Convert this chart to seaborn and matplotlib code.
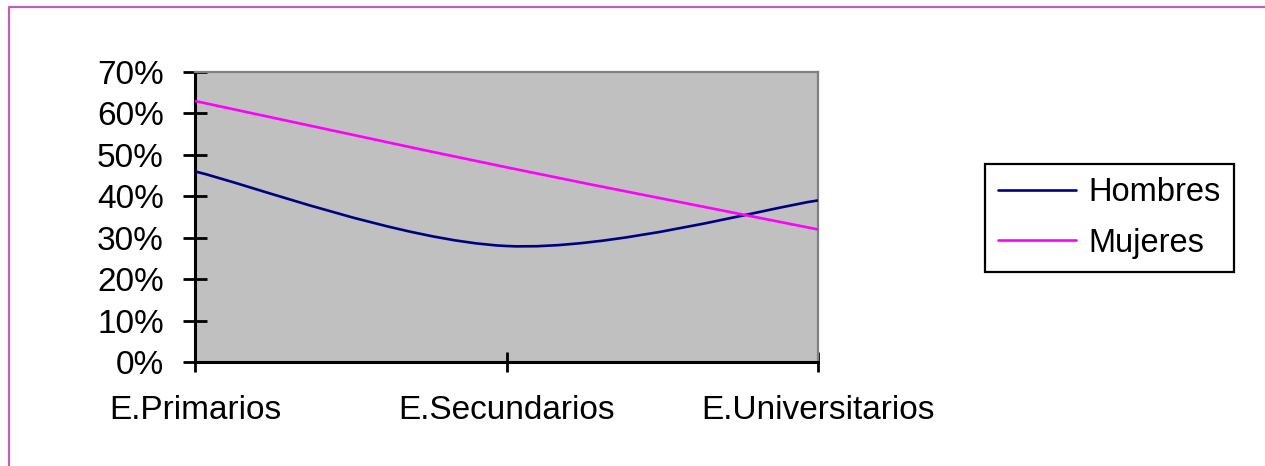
import numpy as np
import pandas as pd
import matplotlib
matplotlib.use("Agg")
import matplotlib.pyplot as plt
import seaborn as sns
from matplotlib.path import Path
from matplotlib.patches import PathPatch
from matplotlib.lines import Line2D
from matplotlib.ticker import PercentFormatter

# datos
niveles = ['E.Primarios', 'E.Secundarios', 'E.Universitarios']
hombres = [0.46, 0.28, 0.39]
mujeres = [0.63, 0.47, 0.32]
series = ['Hombres', 'Mujeres']
colores = {'Hombres': '#000080', 'Mujeres': '#ff00ff'}
ticks_y = [0, 0.1, 0.2, 0.3, 0.4, 0.5, 0.6, 0.7]

df = pd.DataFrame({
    'nivel': niveles * 2,
    'valor': hombres + mujeres,
    'sexo': ['Hombres'] * 3 + ['Mujeres'] * 3,
})

sns.set_style('white')
plt.rcParams['font.family'] = ['Liberation Sans', 'DejaVu Sans']
plt.rcParams['text.color'] = 'black'


def linea_suave(xy):
    # curva bezier tipo "linea suavizada" de Excel a traves de los puntos
    p = np.asarray(xy, dtype=float)
    n = len(p)
    t = np.zeros_like(p)
    for i in range(n):
        a = p[max(i - 1, 0)]
        b = p[min(i + 1, n - 1)]
        t[i] = (b - a) / 6.0
    verts = [p[0]]
    codes = [Path.MOVETO]
    for i in range(n - 1):
        verts += [p[i] + t[i], p[i + 1] - t[i + 1], p[i + 1]]
        codes += [Path.CURVE4] * 3
    return Path(verts, codes)


fig = plt.figure(figsize=(12.65, 4.66), dpi=100)
ax = fig.add_axes([195 / 1265, 1 - 362 / 466, (818 - 195) / 1265, (362 - 72) / 466])

sns.lineplot(data=df, x='nivel', y='valor', hue='sexo', palette=colores,
             sort=False, legend=False, ax=ax)

# reemplazar las lineas rectas por curvas suavizadas
for line, nombre in zip(list(ax.lines), series):
    xy = line.get_xydata()
    ax.add_patch(PathPatch(linea_suave(xy), facecolor='none',
                           edgecolor=colores[nombre], lw=1.9, zorder=3))
    line.set_visible(False)

ax.set_facecolor('#c0c0c0')
ax.set_xlim(0, 2)
ax.set_ylim(0, 0.7)
ax.set_yticks(ticks_y)
ax.yaxis.set_major_formatter(PercentFormatter(1.0, decimals=0))
ax.set_xticks(range(len(niveles)))
ax.set_xticklabels(niveles)
ax.set_xlabel('')
ax.set_ylabel('')

for s in ['left', 'bottom']:
    ax.spines[s].set_color('black')
    ax.spines[s].set_linewidth(2.2)
for s in ['top', 'right']:
    ax.spines[s].set_color('#808080')
    ax.spines[s].set_linewidth(1.6)

ax.tick_params(axis='y', direction='inout', length=17, width=2, color='black',
               pad=14, labelsize=24, labelcolor='black', left=True)
ax.tick_params(axis='x', direction='inout', length=14, width=2, color='black',
               pad=17, labelsize=24, labelcolor='black', bottom=True)

handles = [Line2D([], [], color=colores[s], lw=1.9) for s in series]
leg = ax.legend(handles, series, loc='upper left',
                bbox_to_anchor=(985 / 1265, 1 - 164 / 466),
                bbox_transform=fig.transFigure, fontsize=23.5,
                frameon=True, fancybox=False, framealpha=1,
                edgecolor='black', borderpad=0.4, handlelength=2.4,
                handletextpad=0.37, labelspacing=0.6, borderaxespad=0)
leg.get_frame().set_linewidth(1.6)

# marco exterior del grafico
x0 = 9 / 1265
y0 = 1 - 7 / 466
fig.add_artist(Line2D([x0, x0, 1.01], [-0.01, y0, y0], color='#c060b0',
                      lw=1.6, transform=fig.transFigure))

fig.savefig('out.png', dpi=100, facecolor='white')
